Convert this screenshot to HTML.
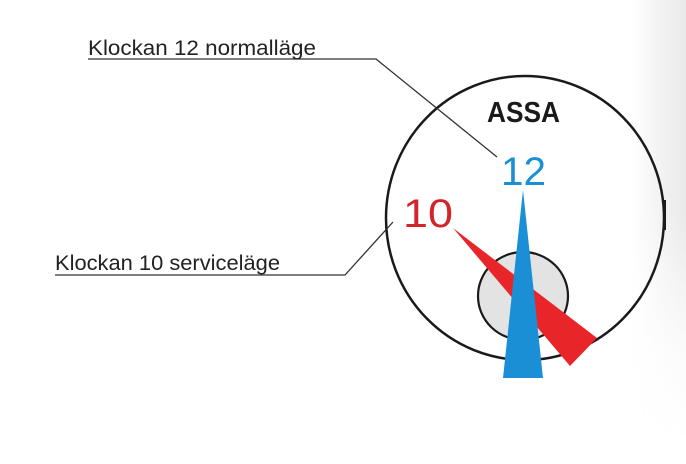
<!DOCTYPE html>
<html><head><style>
html,body{margin:0;padding:0;background:#fff;}
body{width:686px;height:464px;overflow:hidden;position:relative;}
.g{position:absolute;right:0;top:0;width:55px;height:464px;background:linear-gradient(to right,rgba(255,255,255,0),rgba(205,205,205,0.45));-webkit-mask-image:linear-gradient(to bottom,#000 0%,#000 45%,rgba(0,0,0,0.2) 75%,transparent 95%);}
</style></head><body>
<div class="g"></div>
<svg width="686" height="464" style="position:absolute;left:0;top:0" xmlns="http://www.w3.org/2000/svg">
<ellipse cx="525" cy="218" rx="139" ry="142" fill="none" stroke="#1a1a1a" stroke-width="2.5"/>
<rect x="663" y="200" width="3" height="30" fill="#1a1a1a"/>
<ellipse cx="523" cy="296" rx="45" ry="44" fill="#e3e3e3" stroke="#1a1a1a" stroke-width="2.2"/>
<polygon points="453,228 597,338 570,366" fill="#e8262a"/>
<polygon points="523,190 503,378 543,378" fill="#1b8fd6"/>
<polyline points="88,59 376,59 497,157" fill="none" stroke="#333" stroke-width="1.3"/>
<polyline points="55,275 345,275 393,222" fill="none" stroke="#333" stroke-width="1.3"/>
<text x="88" y="55" font-family="Liberation Sans, sans-serif" font-size="21" fill="#222" textLength="228" lengthAdjust="spacingAndGlyphs">Klockan 12 normalläge</text>
<text x="55" y="270" font-family="Liberation Sans, sans-serif" font-size="21" fill="#222" textLength="225" lengthAdjust="spacingAndGlyphs">Klockan 10 serviceläge</text>
<text x="487" y="122" font-family="Liberation Sans, sans-serif" font-weight="bold" font-size="29" fill="#1a1a1a" textLength="73" lengthAdjust="spacingAndGlyphs">ASSA</text>
<text x="501" y="185" font-family="Liberation Sans, sans-serif" font-size="40" fill="#1b8fd6" textLength="45" lengthAdjust="spacingAndGlyphs">12</text>
<text x="403" y="227" font-family="Liberation Sans, sans-serif" font-size="40" fill="#d3242a" textLength="50" lengthAdjust="spacingAndGlyphs">10</text>
</svg>
</body></html>
